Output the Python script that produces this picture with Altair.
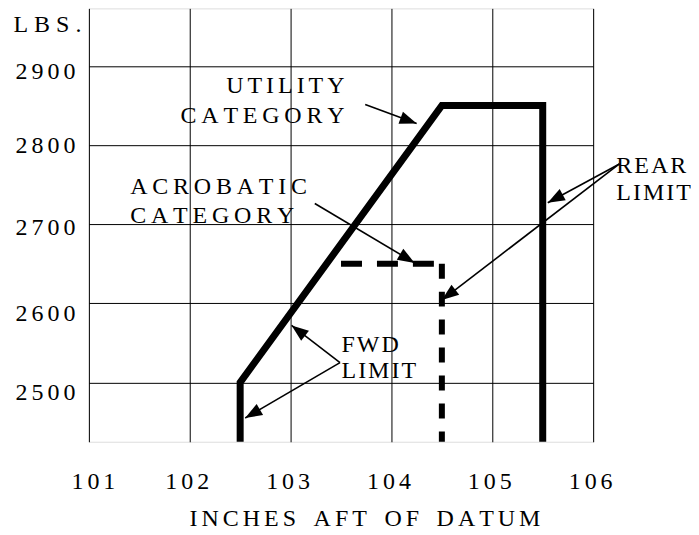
import math
import altair as alt
import pandas as pd

# ---------------- data ----------------
x_ticks = [101, 102, 103, 104, 105, 106]
y_ticks = [2500, 2600, 2700, 2800, 2900]
x_domain = [101, 106]
y_domain = [2425, 2972.6]

# utility category envelope (solid)
utility_x = [102.5, 102.5, 104.5, 105.5, 105.5]
utility_y = [2425, 2500, 2850, 2850, 2425]

# acrobatic category envelope (dashed)
acro_top_x = [103.5, 104.45]
acro_top_y = [2650]
acro_rear_x = [104.5]
acro_rear_y = [2650, 2425]

# annotation arrows (start -> tip)
arrow_x0 = [103.74, 103.24, 106.26, 106.26, 103.49, 103.49]
arrow_y0 = [2851, 2726, 2776, 2776, 2525, 2525]
arrow_x1 = [104.25, 104.23, 105.55, 104.50, 103.01, 102.55]
arrow_y1 = [2827, 2651, 2727, 2604, 2572, 2455]

# annotation texts
left_labels = ["ACROBATIC", "CATEGORY", "REAR", "LIMIT", "FWD", "LIMIT"]
left_x = [101.41, 101.41, 106.23, 106.23, 103.505, 103.505]
left_y = [2738.5, 2702, 2765, 2731, 2539, 2505]
right_labels = ["UTILITY", "CATEGORY"]
right_x = [103.535, 103.535]
right_y = [2866, 2827.4]

x_title = "INCHES AFT OF DATUM"
y_title = "LBS."

# ---------------- layout ----------------
W, H = 505, 434
FONT = "Liberation Serif"
FS = 24
THIN = "\u2009"
SIX = "\u2006"
HAIR = "\u200a"
NB = "\u00a0"
WORD = THIN + NB + THIN + HAIR


def spaced(s, gap=THIN):
    return WORD.join(gap.join(w) for w in s.split(" "))


def ann(s):
    if s in ("REAR", "LIMIT", "FWD"):
        return spaced(s, HAIR)
    if s == "UTILITY":
        return spaced(s, SIX)
    return spaced(s, THIN)


px_x = W / (x_domain[1] - x_domain[0])
px_y = H / (y_domain[1] - y_domain[0])

xs = alt.Scale(domain=x_domain, nice=False, zero=False)
ys = alt.Scale(domain=y_domain, nice=False, zero=False)

xaxis = alt.Axis(
    values=x_ticks, format="d", grid=True, ticks=False, domain=False,
    labelFont=FONT, labelFontSize=FS, labelColor="black", labelFlush=False,
    labelBaseline="alphabetic", labelPadding=47,
    labelOffset={"condition": {"test": "datum.value == 101", "value": 4}, "value": -3},
    labelExpr="join(split(datum.label, ''), '" + SIX + "')",
    title=spaced(x_title, SIX), titleFont=FONT, titleFontSize=FS, titleFontWeight="normal",
    titleColor="black", titleX=276, titleY=84, titleBaseline="alphabetic", titleAlign="center",
    gridColor="black", gridWidth=1, gridOpacity=1,
)
yaxis = alt.Axis(
    values=y_ticks, format="d", grid=True, ticks=False, domain=False,
    labelFont=FONT, labelFontSize=FS, labelColor="black", labelFlush=False,
    labelBaseline="middle", labelPadding=14, labelAlign="right",
    labelOffset={"condition": [
        {"test": "datum.value == 2900", "value": 6},
        {"test": "datum.value == 2800", "value": 1},
        {"test": "datum.value == 2700", "value": 3},
    ], "value": 10},
    labelExpr="join(split(datum.label, ''), '" + SIX + "')",
    title=spaced(y_title, NB), titleFont=FONT, titleFontSize=FS, titleFontWeight="normal",
    titleColor="black", titleAngle=0, titleAlign="left", titleBaseline="alphabetic",
    titleX=-76, titleY=23,
    gridColor="black", gridWidth=1, gridOpacity=1,
)

X = alt.X("x:Q", scale=xs, axis=xaxis)
Y = alt.Y("y:Q", scale=ys, axis=yaxis)

utility_df = pd.DataFrame({"x": utility_x, "y": utility_y, "o": list(range(len(utility_x)))})
utility = alt.Chart(utility_df).mark_line(
    color="black", strokeWidth=7, strokeJoin="miter", strokeCap="butt"
).encode(x=X, y=Y, order="o:Q")

acro_top_df = pd.DataFrame({"x": [acro_top_x[0]], "x2": [acro_top_x[1]], "y": acro_top_y})
acro_top = alt.Chart(acro_top_df).mark_rule(
    color="black", strokeWidth=6, strokeDash=[21, 15], strokeCap="butt"
).encode(x=X, x2="x2:Q", y=Y)

acro_rear_df = pd.DataFrame({"x": acro_rear_x, "y": [acro_rear_y[0]], "y2": [acro_rear_y[1]]})
acro_rear = alt.Chart(acro_rear_df).mark_rule(
    color="black", strokeWidth=6, strokeDash=[15, 13], strokeCap="butt"
).encode(x=X, y=Y, y2="y2:Q")

angles = []
for a, b, c, d in zip(arrow_x0, arrow_y0, arrow_x1, arrow_y1):
    dx = (c - a) * px_x
    dy = -(d - b) * px_y
    angles.append(math.degrees(math.atan2(dx, -dy)) % 360)

arrow_df = pd.DataFrame({"x": arrow_x0, "y": arrow_y0, "x2": arrow_x1, "y2": arrow_y1})
arrow_lines = alt.Chart(arrow_df).mark_rule(color="black", strokeWidth=1.6).encode(
    x=X, y=Y, x2="x2:Q", y2="y2:Q"
)
head_df = pd.DataFrame({"x": arrow_x1, "y": arrow_y1, "angle": angles})
heads = alt.Chart(head_df).mark_point(
    shape="M0,0 L-0.75,2 L0.75,2 Z", filled=True, size=289, color="black",
    opacity=1, strokeWidth=0
).encode(x=X, y=Y, angle=alt.Angle("angle:Q", scale=None))

left_df = pd.DataFrame({"x": left_x, "y": left_y, "t": [ann(s) for s in left_labels]})
left_text = alt.Chart(left_df).mark_text(
    align="left", baseline="alphabetic", font=FONT, fontSize=FS, color="black"
).encode(x=X, y=Y, text="t:N")

right_df = pd.DataFrame({"x": right_x, "y": right_y, "t": [ann(s) for s in right_labels]})
right_text = alt.Chart(right_df).mark_text(
    align="right", baseline="alphabetic", font=FONT, fontSize=FS, color="black"
).encode(x=X, y=Y, text="t:N")

chart = alt.layer(
    utility, acro_top, acro_rear, arrow_lines, heads, left_text, right_text
).properties(
    width=W, height=H,
    autosize=alt.AutoSizeParams(type="none"),
    padding={"left": 81, "top": 0, "right": 98, "bottom": 91},
).configure_view(stroke="black", strokeWidth=1.2).configure(background="white")

chart.save("out.html", embed_options={"renderer": "svg", "actions": False})
